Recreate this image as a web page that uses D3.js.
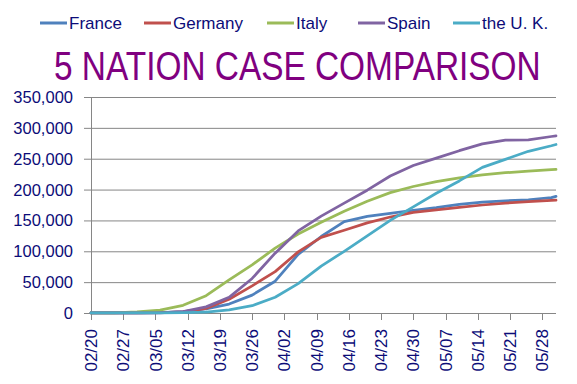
<!DOCTYPE html>
<html>
<head>
<meta charset="utf-8">
<script src="https://cdn.jsdelivr.net/npm/d3@7"></script>
<style>
  html, body { margin: 0; padding: 0; background: #fff; }
</style>
</head>
<body>
<div id="chart"></div>
<script>
// Sample dates (every 5 days + last day)
const dates = ["2020-02-20", "2020-02-25", "2020-03-01", "2020-03-06", "2020-03-11", "2020-03-16",
    "2020-03-21", "2020-03-26", "2020-03-31", "2020-04-05", "2020-04-10", "2020-04-15",
    "2020-04-20", "2020-04-25", "2020-04-30", "2020-05-05", "2020-05-10", "2020-05-15",
    "2020-05-20", "2020-05-25", "2020-05-30", "2020-05-31"];

const france = [12, 14, 130, 653, 2284, 6650, 14431, 29000, 51500, 95000, 124000, 148000,
    156500, 161600, 166500, 170700, 176000, 179600, 181700, 183500, 187000, 189000];
const germany = [16, 16, 130, 670, 1908, 7272, 22213, 43938, 67000, 99000, 122500, 134000,
    146000, 155500, 163000, 167000, 171300, 175000, 178000, 180500, 182500, 183000];
const italy = [3, 322, 1694, 4636, 12462, 27980, 53578, 78000, 105000, 128000, 147000, 165000,
    181000, 195000, 205000, 213000, 219000, 223800, 227300, 230000, 232300, 232700];
const spain = [2, 6, 84, 400, 2277, 9942, 25374, 56000, 97000, 133000, 157000, 178000,
    199000, 222000, 239000, 251000, 263000, 274000, 280000, 280500, 286000, 287000];
const uk = [9, 13, 36, 164, 459, 1543, 5067, 11812, 25500, 47500, 76000, 100000,
    125000, 150000, 172000, 194000, 214000, 236000, 249000, 262000, 271000, 273000];

const seriesNames = ["France", "Germany", "Italy", "Spain", "the U. K."];
const seriesValues = [france, germany, italy, spain, uk];
const seriesColors = ["#4f81bd", "#c0504d", "#9bbb59", "#8064a2", "#4bacc6"];

const yTicks = [0, 50000, 100000, 150000, 200000, 250000, 300000, 350000];
const xTickStart = "2020-02-20";
const xTickCount = 15; // weekly labels 02/20 .. 05/28

const width = 577;
const height = 384;
const textColor = "#0c0c78";

const parse = d3.timeParse("%Y-%m-%d");
const dateObjs = dates.map(parse);

const svg = d3.select("#chart")
    .append("svg")
    .attr("width", width)
    .attr("height", height)
    .style("font-family", "'Liberation Sans', Arial, sans-serif");

const x = d3.scaleTime()
    .domain([dateObjs[0], dateObjs[dateObjs.length - 1]])
    .range([91, 556]);

const y = d3.scaleLinear()
    .domain([0, 350000])
    .range([313, 97]);

// Gridlines
svg.append("g")
    .selectAll("line")
    .data(yTicks)
    .join("line")
    .attr("x1", 84)
    .attr("x2", x.range()[1])
    .attr("y1", d => y(d) + 0.5)
    .attr("y2", d => y(d) + 0.5)
    .attr("stroke", "#868686")
    .attr("stroke-width", 1);

// Y axis line
svg.append("line")
    .attr("x1", 91.5).attr("x2", 91.5)
    .attr("y1", y(350000)).attr("y2", y(0) + 0.5)
    .attr("stroke", "#868686");

// Y labels
svg.append("g")
    .selectAll("text")
    .data(yTicks)
    .join("text")
    .attr("x", 73)
    .attr("y", d => y(d))
    .attr("dy", "0.36em")
    .attr("text-anchor", "end")
    .attr("fill", textColor)
    .style("font-size", "16.5px")
    .text(d => d3.format(",")(d));

// X ticks, weekly
const weekTicks = d3.range(xTickCount).map(i => d3.timeDay.offset(parse(xTickStart), 7 * i));

svg.append("g")
    .selectAll("line")
    .data(weekTicks)
    .join("line")
    .attr("x1", d => Math.round(x(d)) + 0.5)
    .attr("x2", d => Math.round(x(d)) + 0.5)
    .attr("y1", y(0))
    .attr("y2", y(0) + 7)
    .attr("stroke", "#868686");

svg.append("g")
    .selectAll("text")
    .data(weekTicks)
    .join("text")
    .attr("transform", d => `translate(${x(d)},329) rotate(-90)`)
    .attr("dy", "0.36em")
    .attr("text-anchor", "end")
    .attr("fill", textColor)
    .style("font-size", "17px")
    .text(d => d3.timeFormat("%m/%d")(d));

// Lines
const line = d3.line()
    .x((d, i) => x(dateObjs[i]))
    .y(d => y(d));

svg.append("g")
    .selectAll("path")
    .data(seriesValues)
    .join("path")
    .attr("d", d => line(d))
    .attr("fill", "none")
    .attr("stroke", (d, i) => seriesColors[i])
    .attr("stroke-width", 2.75)
    .attr("stroke-linejoin", "round")
    .attr("stroke-linecap", "round");

// Legend
const legendX = [40, 144, 267, 358, 453];
const legend = svg.append("g")
    .selectAll("g")
    .data(seriesNames)
    .join("g")
    .attr("transform", (d, i) => `translate(${legendX[i]},23)`);

legend.append("line")
    .attr("x1", 0).attr("x2", 27)
    .attr("stroke", (d, i) => seriesColors[i])
    .attr("stroke-width", 3);

legend.append("text")
    .attr("x", 29)
    .attr("dy", "0.36em")
    .attr("fill", textColor)
    .style("font-size", "17px")
    .text(d => d);

// Title: fit width to 487px, then stretch vertically to keep the tall look
const titleWidth = 487;
const title = svg.append("g");
const titleText = title.append("text")
    .attr("fill", "#800080")
    .style("font-size", "41px")
    .text("5 NATION CASE COMPARISON");
const natural = titleText.node().getComputedTextLength();
const k = natural / titleWidth;
titleText.style("font-size", (41 / k) + "px");
title.attr("transform", `translate(54,80) scale(1,${k})`);
</script>
</body>
</html>
